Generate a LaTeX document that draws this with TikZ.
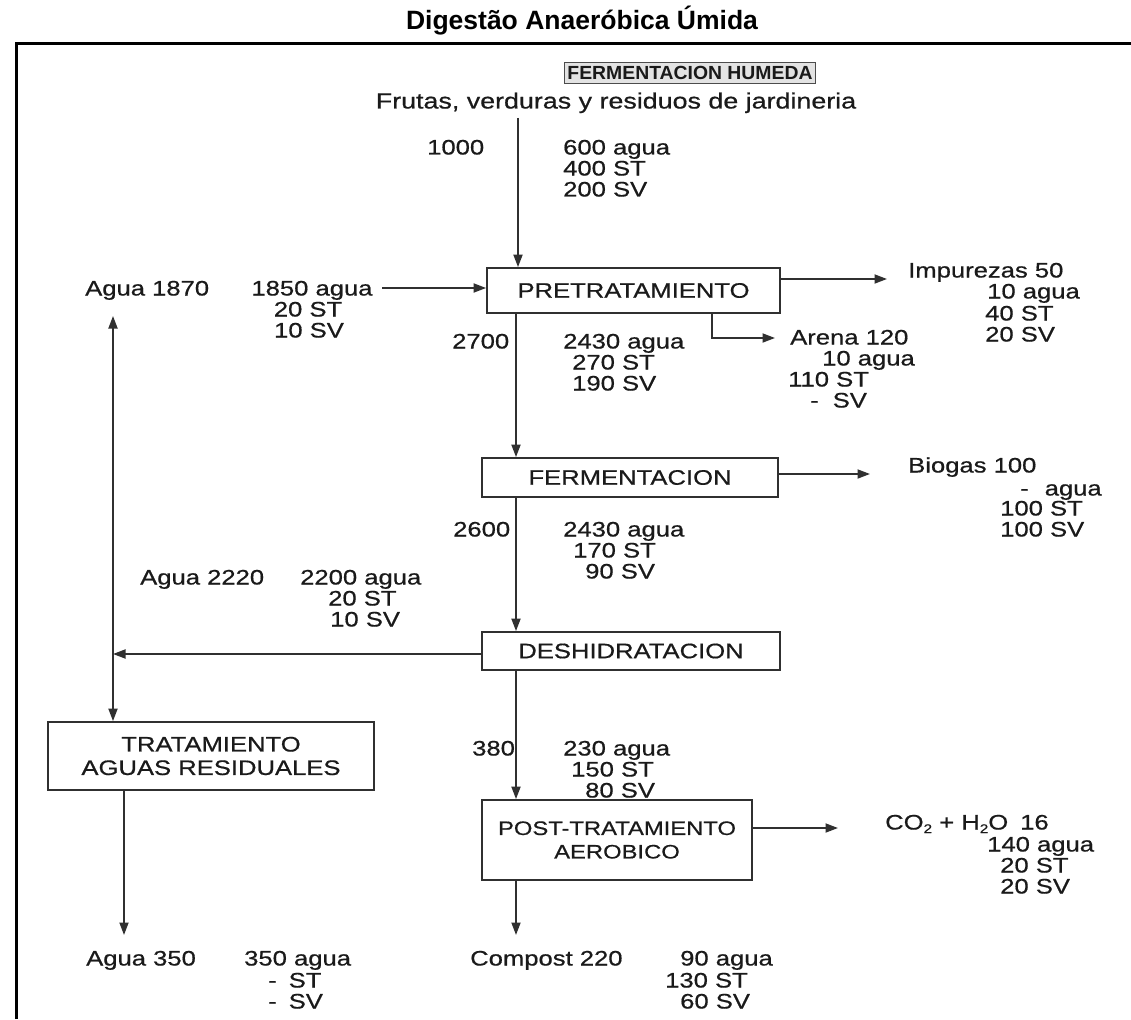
\documentclass[tikz,border=0pt]{standalone}
\usepackage{fontspec}
\usetikzlibrary{arrows.meta}
\newfontfamily\bodyfont[FakeStretch=1.22,FakeBold=0.6]{Liberation Sans}
\newfontfamily\labelfont[FakeStretch=1.02]{Liberation Sans}
\newfontfamily\titlefont{Liberation Sans}
\definecolor{ink}{HTML}{1A1A1A}
\definecolor{lin}{HTML}{303030}
\newcommand{\subtwo}{\raisebox{-3.5pt}{\fontsize{12.5}{12.5}\selectfont 2}}
\begin{document}
\begin{tikzpicture}[x=1pt,y=-1pt,
  txt/.style={inner sep=0pt, text height=15pt, text depth=0pt, font=\bodyfont\fontsize{21}{21}\selectfont, text=ink},
  lt/.style={txt, anchor=west},
  procbox/.style={draw=lin, line width=1.8pt, fill=white, font=\bodyfont\fontsize{21}{23.5}\selectfont, text=ink, align=center, inner sep=0pt},
  arr/.style={draw=lin, line width=1.8pt, -{Triangle[length=12.5pt,width=9pt]}},
]
\useasboundingbox (0,0) rectangle (1131,1019);
\fill[white] (0,0) rectangle (1131,1019);
% frame
\draw[line width=3pt, black] (16,1019) -- (16,44) -- (1131,44);
% title
\node[inner sep=0pt, font=\titlefont\bfseries\fontsize{26.5}{28}\selectfont] (title) at (582,21) {Digestão Anaeróbica Úmida};
\node[draw=gray!60!black, fill=gray!22, line width=1.3pt, inner xsep=3pt, text height=13.5pt, text depth=0pt, inner ysep=4pt, font=\labelfont\bfseries\fontsize{19}{19}\selectfont, text=ink] (fh) at (690,73) {FERMENTACION HUMEDA};

% boxes
\node[procbox, minimum width=293pt, minimum height=45pt] (pre) at (633.5,290.5) {PRETRATAMIENTO};
\node[procbox, minimum width=296pt, minimum height=39pt] (fer) at (630,477.5) {FERMENTACION};
\node[procbox, minimum width=298pt, minimum height=38pt] (des) at (631,651) {DESHIDRATACION};
\node[procbox, minimum width=326pt, minimum height=68pt] (trat) at (211,756) {TRATAMIENTO\\AGUAS RESIDUALES};
\node[procbox, minimum width=270pt, minimum height=80pt, font=\bodyfont\fontsize{19.5}{23.5}\selectfont] (post) at (617,840) {POST-TRATAMIENTO\\AEROBICO};

% texts
\node[txt, font=\bodyfont\fontsize{22}{22}\selectfont] (frutas) at (616,101) {Frutas, verduras y residuos de jardineria};
\node[lt] (n1000) at (427,147) {1000};
\node[lt] (f1) at (563,147) {600 agua};
\node[lt] (f2) at (563,168) {400 ST};
\node[lt] (f3) at (563,189) {200 SV};

\node[lt] (a1870) at (85,288) {Agua 1870};
\node[txt] (w1) at (312,288) {1850 agua};
\node[txt] (w2) at (308,309) {20 ST};
\node[txt] (w3) at (309,330) {10 SV};

\node[lt] (imp) at (908,270) {Impurezas 50};
\node[lt] (i1) at (987,291) {10 agua};
\node[lt] (i2) at (985,313) {40 ST};
\node[lt] (i3) at (985,334) {20 SV};

\node[lt] (arena) at (790,337) {Arena 120};
\node[lt] (r1) at (822,358) {10 agua};
\node[lt] (r2) at (788,379) {110 ST};
\node[lt] (r3) at (810,400) {-\hspace{14pt}SV};

\node[lt] (n2700) at (452,341) {2700};
\node[lt] (p1) at (563,341) {2430 agua};
\node[lt] (p2) at (572,362) {270 ST};
\node[lt] (p3) at (572,383) {190 SV};

\node[lt] (bio) at (908,465) {Biogas 100};
\node[lt] (b1) at (1020,488) {-\hspace{16pt}agua};
\node[lt] (b2) at (1000,508) {100 ST};
\node[lt] (b3) at (1000,529) {100 SV};

\node[lt] (n2600) at (453,529) {2600};
\node[lt] (q1) at (563,529) {2430 agua};
\node[lt] (q2) at (573,550) {170 ST};
\node[lt] (q3) at (585,571) {90 SV};

\node[lt] (a2220) at (140,577) {Agua 2220};
\node[lt] (d1) at (300,577) {2200 agua};
\node[lt] (d2) at (328,598) {20 ST};
\node[lt] (d3) at (330,619) {10 SV};

\node[lt] (n380) at (472,748) {380};
\node[lt] (s1) at (563,748) {230 agua};
\node[lt] (s2) at (571,769) {150 ST};
\node[lt] (s3) at (585,790) {80 SV};

\node[lt] (co2) at (885,822) {CO\subtwo{} + H\subtwo{}O\hspace{12pt}16};
\node[lt] (c1) at (987,844) {140 agua};
\node[lt] (c2) at (1000,865) {20 ST};
\node[lt] (c3) at (1000,886) {20 SV};

\node[lt] (a350) at (86,958) {Agua 350};
\node[lt] (e1) at (244,958) {350 agua};
\node[lt] (e2) at (268,980) {-\hspace{12pt}ST};
\node[lt] (e3) at (268,1001) {-\hspace{12pt}SV};

\node[lt] (comp) at (470,958) {Compost 220};
\node[lt] (k1) at (680,958) {90 agua};
\node[lt] (k2) at (665,980) {130 ST};
\node[lt] (k3) at (680,1001) {60 SV};

% connector coordinates
\coordinate (j1) at (518,118);
\coordinate (j2) at (382,288);
\coordinate (impA) at (887,279);
\coordinate (arA) at (712,338);
\coordinate (arB) at (775,338);
\coordinate (m) at (516,0);
\coordinate (compE) at (516,935);
\coordinate (bioA) at (870,474);
\coordinate (wj) at (113,654);
\coordinate (wtop) at (113,316);
\coordinate (tb) at (124,935);
\coordinate (co2A) at (838,828);

% connectors
\draw[arr] (j1) -- (j1 |- pre.north);
\draw[arr] (j2) -- (j2 -| pre.west);
\draw[arr] (pre.east |- impA) -- (impA);
\draw[arr] (arA |- pre.south) -- (arA) -- (arB);
\draw[arr] (m |- pre.south) -- (m |- fer.north);
\draw[arr] (fer.east |- bioA) -- (bioA);
\draw[arr] (m |- fer.south) -- (m |- des.north);
\draw[arr] (des.west |- wj) -- (wj);
\draw[arr] (wj) -- (wtop);
\draw[arr] (wj) -- (wj |- trat.north);
\draw[arr] (m |- des.south) -- (m |- post.north);
\draw[arr] (post.east |- co2A) -- (co2A);
\draw[arr] (m |- post.south) -- (compE);
\draw[arr] (tb |- trat.south) -- (tb);
\end{tikzpicture}
\end{document}
